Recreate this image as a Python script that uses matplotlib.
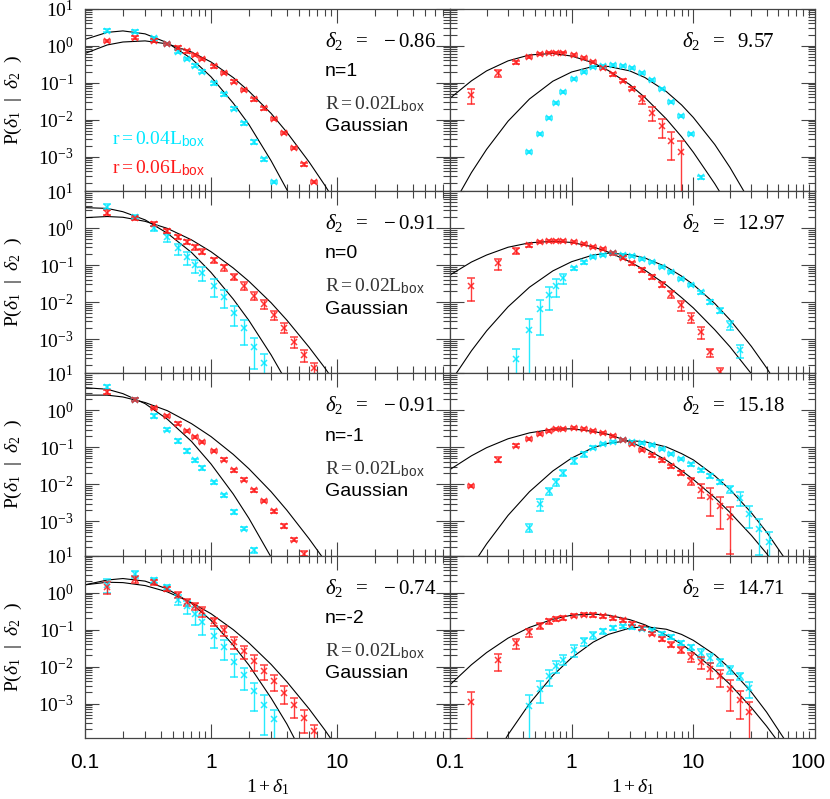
import numpy as np
import matplotlib
matplotlib.use("Agg")
import matplotlib.pyplot as plt
from matplotlib.ticker import LogLocator, NullFormatter
from matplotlib.transforms import ScaledTranslation


plt.rcParams["font.family"] = ["Liberation Serif", "DejaVu Serif"]
plt.rcParams["mathtext.fontset"] = "custom"
plt.rcParams["mathtext.rm"] = "Liberation Serif"
plt.rcParams["mathtext.it"] = "Liberation Serif:italic"
plt.rcParams["mathtext.sf"] = "Liberation Sans"

CYAN = "#00E8FF"
RED = "#FF1A1A"
AX_COLOR = "#444444"

# bin centres in 1+delta_1 shared by all measured series
BIN_X = [0.15, 0.25, 0.35, 0.45, 0.55, 0.65, 0.75, 0.85,
         1.05, 1.26, 1.51, 1.82, 2.19, 2.63, 3.16, 3.80, 4.57, 5.50,
         6.61, 7.94, 9.55, 11.5, 13.8, 16.6, 20.0, 24.0, 28.8, 34.7, 41.7]

N_LABELS = ["n=1", "n=0", "n=-1", "n=-2"]
DELTA2_LOW = ["-0.86", "-0.91", "-0.91", "-0.74"]
DELTA2_HIGH = ["9.57", "12.97", "15.18", "14.71"]

Y_TICKS = [10, 1, 0.1, 0.01, 0.001]
Y_TICK_LABELS = [r"$10^{1}$", r"$10^{0}$", r"$10^{-1}$", r"$10^{-2}$", r"$10^{-3}$"]
X_TICKS_LEFT = [0.1, 1, 10]
X_TICKS_RIGHT = [0.1, 1, 10, 100]

# ---- low delta_2 (left column), both series start at the first bin ----
LOW_CYAN_Y = [
    [2.55, 2.39, 1.58, 1.09, 0.69, 0.44, 0.29, 0.20, 0.096, 0.049, 0.020, 0.0080, 0.0025, 8.5e-4, 2.1e-4],
    [3.77, 2.02, 0.98, 0.559, 0.282, 0.161, 0.10, 0.062, 0.0276, 0.0139, 0.0051, 0.00202, 6.2e-4, 2.2e-4],
    [4.27, 1.94, 0.703, 0.30, 0.148, 0.0796, 0.0445, 0.0276, 0.0113, 0.00505, 0.00179, 6.3e-4, 1.64e-4],
    [1.64, 3.19, 2.15, 1.39, 0.646, 0.427, 0.27, 0.161, 0.0689, 0.034, 0.0134, 0.00582, 0.00215, 9.4e-4, 3.85e-4],
]
LOW_CYAN_ERR = [
    [0.08, 0.08, 0.08, 0.07, 0.08, 0.08, 0.08, 0.08, 0.08, 0.08, 0.08, 0.08, 0.10, 0.10, 0.08],
    [0.15, 0.10, 0.16, 0.25, 0.33, 0.37, 0.38, 0.42, 0.50, 0.50, 0.55, 0.65, 0.75, 0.80],
    [0.10, 0.08, 0.14, 0.10, 0.10, 0.10, 0.10, 0.10, 0.10, 0.10, 0.10, 0.10, 0.15],
    [0.40, 0.20, 0.15, 0.15, 0.30, 0.40, 0.50, 0.55, 0.55, 0.55, 0.60, 0.60, 0.70, 0.85, 0.75],
]
LOW_RED_Y = [
    [1.34, 1.65, 1.37, 1.11, 0.885, 0.705, 0.56, 0.44, 0.277, 0.183, 0.107, 0.0635, 0.0355, 0.0203,
     0.0104, 0.0044, 0.00172, 6.2e-4, 2.07e-4],
    [2.59, 1.82, 1.26, 0.83, 0.583, 0.427, 0.30, 0.229, 0.136, 0.0865, 0.0483, 0.0276, 0.0148, 0.00865,
     0.00445, 0.00202, 8.5e-4, 3.7e-4, 1.6e-4],
    [3.13, 1.94, 1.16, 0.703, 0.436, 0.276, 0.19, 0.139, 0.0796, 0.0464, 0.0239, 0.0134, 0.00689,
     0.00354, 0.00186, 7.5e-4, 3.2e-4, 1.34e-4],
    [1.42, 2.34, 1.90, 1.26, 0.88, 0.56, 0.427, 0.313, 0.168, 0.096, 0.0464, 0.026, 0.0139, 0.0078,
     0.004, 0.00194, 9.0e-4, 4.1e-4, 1.79e-4],
]
LOW_RED_ERR = [
    [0.08, 0.08, 0.08, 0.08, 0.08, 0.08, 0.08, 0.08, 0.08, 0.08, 0.08, 0.08, 0.08, 0.08, 0.08, 0.08,
     0.08, 0.08, 0.08],
    [0.15, 0.12, 0.12, 0.12, 0.13, 0.14, 0.15, 0.16, 0.17, 0.18, 0.20, 0.22, 0.25, 0.27, 0.28, 0.30,
     0.33, 0.35, 0.40],
    [0.10, 0.08, 0.08, 0.08, 0.08, 0.08, 0.08, 0.08, 0.08, 0.08, 0.08, 0.08, 0.08, 0.08, 0.08, 0.10,
     0.10, 0.15],
    [0.35, 0.20, 0.15, 0.15, 0.20, 0.22, 0.20, 0.30, 0.25, 0.30, 0.35, 0.40, 0.45, 0.45, 0.45, 0.50,
     0.55, 0.60, 0.50],
]

# ---- high delta_2 (right column) ----
HIGH_RED_Y = [
    [0.0465, 0.179, 0.355, 0.494, 0.597, 0.648, 0.648, 0.648, 0.561, 0.474, 0.355, 0.255, 0.168,
     0.1135, 0.069, 0.0355, 0.0155, 0.0068, 0.0027, 0.00134],
    [0.027, 0.111, 0.239, 0.34, 0.409, 0.436, 0.445, 0.445, 0.409, 0.377, 0.313, 0.265, 0.206, 0.158,
     0.111, 0.0733, 0.0473, 0.0294, 0.0164, 0.0081, 0.00377, 0.00155, 4.35e-4, 1.3e-4],
    [9.0e-3, 0.0464, 0.111, 0.171, 0.234, 0.276, 0.306, 0.319, 0.326, 0.313, 0.276, 0.244, 0.198,
     0.155, 0.126, 0.0865, 0.0607, 0.0445, 0.0306, 0.0202, 0.0123, 0.00717, 0.00454, 0.00254, 0.00131],
    [1.11e-3, 0.0148, 0.0436, 0.0847, 0.128, 0.168, 0.194, 0.206, 0.239, 0.254, 0.249, 0.229, 0.202,
     0.179, 0.145, 0.111, 0.0778, 0.0558, 0.0393, 0.0288, 0.0182, 0.0131, 0.00865, 0.00548, 0.00254,
     0.00128, 5.8e-4],
]
HIGH_RED_ERR = [
    [0.42, 0.22, 0.08, 0.06, 0.05, 0.05, 0.05, 0.05, 0.05, 0.05, 0.06, 0.06, 0.07, 0.08, 0.10, 0.25,
     0.40, 0.53, 0.70, 1.0],
    [0.60, 0.33, 0.18, 0.08, 0.06, 0.06, 0.06, 0.06, 0.06, 0.06, 0.06, 0.06, 0.07, 0.08, 0.08, 0.10,
     0.12, 0.15, 0.20, 0.30, 0.30, 0.35, 0.25, 0.30],
    [0.06, 0.15, 0.08, 0.06, 0.06, 0.06, 0.06, 0.06, 0.06, 0.06, 0.06, 0.06, 0.06, 0.06, 0.06, 0.07,
     0.08, 0.08, 0.10, 0.12, 0.20, 0.40, 0.70, 0.75, 0.90],
    [0.90, 0.50, 0.30, 0.25, 0.20, 0.15, 0.10, 0.10, 0.10, 0.10, 0.10, 0.10, 0.10, 0.10, 0.10, 0.10,
     0.10, 0.12, 0.15, 0.20, 0.25, 0.35, 0.45, 0.50, 0.75, 0.70, 0.90],
]
HIGH_CYAN_START = [3, 2, 3, 3]
HIGH_CYAN_Y = [
    [1.31e-3, 4.0e-3, 0.0109, 0.0289, 0.056, 0.126, 0.19, 0.26, 0.288, 0.30, 0.283, 0.244, 0.187,
     0.116, 0.066, 0.0307, 0.0126, 0.0041, 2.8e-4],
    [2.8e-4, 1.75e-3, 6.3e-3, 0.0155, 0.0276, 0.0436, 0.081, 0.118, 0.161, 0.186, 0.206, 0.186, 0.175,
     0.145, 0.118, 0.0865, 0.0634, 0.0418, 0.0288, 0.0182, 0.0102, 0.00583, 0.00239, 5.0e-4],
    [6.7e-4, 2.88e-3, 6.6e-3, 0.0116, 0.0207, 0.0427, 0.0646, 0.098, 0.12, 0.139, 0.155, 0.139, 0.131,
     0.113, 0.092, 0.0675, 0.0493, 0.0347, 0.0239, 0.0168, 0.0116, 0.00733, 0.00436, 0.00161, 6.3e-4,
     2.76e-4],
    [8.5e-4, 2.54e-3, 5.5e-3, 0.0102, 0.0155, 0.0288, 0.0483, 0.0703, 0.0902, 0.111, 0.123, 0.118,
     0.106, 0.096, 0.078, 0.0634, 0.0436, 0.034, 0.0234, 0.0171, 0.0131, 0.0083, 0.0055, 0.00265],
]
HIGH_CYAN_ERR = [
    [0.06, 0.06, 0.06, 0.06, 0.06, 0.06, 0.06, 0.06, 0.06, 0.06, 0.06, 0.06, 0.06, 0.06, 0.06, 0.06,
     0.06, 0.08, 0.10],
    [0.90, 1.0, 0.80, 0.60, 0.50, 0.30, 0.12, 0.08, 0.06, 0.06, 0.06, 0.06, 0.06, 0.06, 0.06, 0.06,
     0.06, 0.07, 0.08, 0.10, 0.12, 0.15, 0.25, 0.40],
    [0.25, 0.35, 0.20, 0.20, 0.20, 0.18, 0.15, 0.08, 0.06, 0.06, 0.06, 0.06, 0.06, 0.06, 0.06, 0.06,
     0.06, 0.08, 0.10, 0.10, 0.12, 0.20, 0.40, 0.60, 0.80, 0.85],
    [0.95, 0.60, 0.45, 0.35, 0.30, 0.35, 0.25, 0.20, 0.15, 0.10, 0.10, 0.10, 0.10, 0.10, 0.10, 0.10,
     0.12, 0.15, 0.25, 0.25, 0.20, 0.25, 0.20, 0.45],
]

# ---- Gaussian-model curves, log10 P ----
FIT_X_LOW = [0.1, 0.15, 0.2, 0.3, 0.45, 0.7, 1, 1.5, 2, 3, 4, 6, 8, 10]
FIT_X_HIGH = [0.1, 0.15, 0.2, 0.3, 0.45, 0.7, 1, 1.5, 2, 3, 4, 6, 8, 10, 15, 20, 30, 40, 60]

LOW_CYAN_FIT = [
    [0.17, 0.36, 0.40, 0.32, 0.08, -0.35, -0.84, -1.55, -2.13, -3.11, -3.89, -5.13],
    [0.55, 0.53, 0.44, 0.22, -0.14, -0.66, -1.20, -1.92, -2.50, -3.43, -4.17],
    [0.61, 0.57, 0.45, 0.18, -0.24, -0.84, -1.45, -2.26, -2.92, -3.97, -4.8],
    [0.21, 0.34, 0.38, 0.31, 0.10, -0.29, -0.75, -1.42, -1.96, -2.85, -3.55, -4.7],
]
LOW_RED_FIT = [
    [-0.21, 0.02, 0.10, 0.13, 0.05, -0.17, -0.44, -0.86, -1.23, -1.83, -2.34, -3.14, -3.77, -4.30],
    [0.28, 0.31, 0.29, 0.18, -0.01, -0.32, -0.64, -1.08, -1.44, -2.02, -2.49, -3.22, -3.78, -4.25],
    [0.41, 0.41, 0.36, 0.21, -0.01, -0.36, -0.71, -1.19, -1.58, -2.20, -2.70, -3.47, -4.06],
    [0.21, 0.28, 0.27, 0.19, 0.02, -0.27, -0.57, -1.00, -1.36, -1.94, -2.41, -3.14, -3.71, -4.19],
]
HIGH_RED_FIT = [
    [-1.42, -0.95, -0.68, -0.41, -0.25, -0.21, -0.28, -0.46, -0.67, -1.05, -1.40, -1.98, -2.46, -2.88,
     -3.73, -4.40],
    [-1.27, -0.92, -0.73, -0.52, -0.40, -0.36, -0.39, -0.51, -0.65, -0.91, -1.14, -1.54, -1.88, -2.16,
     -2.75, -3.21, -3.94, -4.5],
    [-1.60, -1.23, -1.01, -0.77, -0.61, -0.51, -0.50, -0.57, -0.65, -0.85, -1.03, -1.35, -1.63, -1.87,
     -2.36, -2.76, -3.38, -3.87, -4.63],
    [-2.49, -1.95, -1.62, -1.23, -0.94, -0.72, -0.61, -0.58, -0.61, -0.73, -0.87, -1.15, -1.39, -1.62,
     -2.09, -2.48, -3.11, -3.61, -4.39],
]
HIGH_CYAN_FIT = [
    [-4.45, -3.43, -2.80, -2.04, -1.44, -0.96, -0.71, -0.56, -0.56, -0.68, -0.86, -1.24, -1.60, -1.94,
     -2.67, -3.29, -4.28],
    [-4.18, -3.32, -2.78, -2.13, -1.60, -1.16, -0.91, -0.73, -0.68, -0.72, -0.81, -1.05, -1.30, -1.53,
     -2.04, -2.48, -3.20, -3.78, -4.71],
    [-5.2, -4.23, -3.61, -2.84, -2.20, -1.64, -1.29, -1.01, -0.89, -0.82, -0.85, -0.99, -1.17, -1.34,
     -1.77, -2.14, -2.77, -3.29, -4.13],
    [-6.8, -5.61, -4.83, -3.84, -3.00, -2.24, -1.76, -1.34, -1.13, -0.96, -0.92, -0.99, -1.13, -1.29,
     -1.68, -2.05, -2.69, -3.23, -4.11],
]

YMIN = 10 ** -3.927
XMAX_LOW = 10 ** 1.897
XMAX_HIGH = 100.0

FIG_W, FIG_H = 830, 799
PANEL_TOP = 8.7
PANEL_H = 182.3
LEFT_X0 = 85
RIGHT_X0 = 450
PANEL_W = 365


def draw_series(ax, start, ys, errs, color):
    xs = BIN_X[start:start + len(ys)]
    y = np.array(ys)
    err = np.array(errs) * y
    lower = np.minimum(err, 0.97 * y)
    ax.errorbar(xs, y, yerr=[lower, err], fmt="x", color=color, ms=4, mew=1.1,
                elinewidth=1.0, capsize=3.2, capthick=1.0, alpha=0.85, zorder=3)


def draw_fit(ax, xs, logs):
    n = min(len(xs), len(logs))
    ax.plot(xs[:n], 10 ** np.array(logs[:n]), color="black", lw=0.8, zorder=2)


def style_axes(ax, xmax, xticks, bottom, left):
    ax.set_xscale("log")
    ax.set_yscale("log")
    ax.set_xlim(0.1, xmax)
    ax.set_ylim(YMIN, 10)
    ax.set_xticks(xticks)
    ax.xaxis.set_minor_locator(LogLocator(base=10, subs=np.arange(2, 10), numticks=30))
    ax.xaxis.set_minor_formatter(NullFormatter())
    ax.set_yticks(Y_TICKS)
    ax.yaxis.set_minor_locator(LogLocator(base=10, subs=np.arange(2, 10), numticks=30))
    ax.yaxis.set_minor_formatter(NullFormatter())
    ax.tick_params(which="both", direction="in", top=True, right=True,
                   color=AX_COLOR, width=0.8)
    ax.tick_params(which="major", length=10)
    ax.tick_params(which="minor", length=5)
    if bottom:
        ax.set_xticklabels([f"{t:g}" for t in xticks], fontfamily="Liberation Sans", fontsize=15)
        ax.tick_params(axis="x", pad=11)
    else:
        ax.tick_params(axis="x", labelbottom=False)
    if left:
        ax.set_yticklabels(Y_TICK_LABELS, fontsize=14)
        ax.tick_params(axis="y", pad=8)
    else:
        ax.tick_params(axis="y", labelleft=False)
    for sp in ax.spines.values():
        sp.set_color(AX_COLOR)
        sp.set_linewidth(0.9)


fig = plt.figure(figsize=(FIG_W / 100, FIG_H / 100), dpi=100)

for row in range(4):
    y0 = 1 - (PANEL_TOP + PANEL_H * (row + 1)) / FIG_H
    h = PANEL_H / FIG_H
    axl = fig.add_axes([LEFT_X0 / FIG_W, y0, PANEL_W / FIG_W, h])
    axr = fig.add_axes([RIGHT_X0 / FIG_W, y0, PANEL_W / FIG_W, h])
    bottom = row == 3

    style_axes(axl, XMAX_LOW, X_TICKS_LEFT, bottom, True)
    style_axes(axr, XMAX_HIGH, X_TICKS_RIGHT, bottom, False)

    # left column: underdense delta_2
    draw_fit(axl, FIT_X_LOW, LOW_CYAN_FIT[row])
    draw_fit(axl, FIT_X_LOW, LOW_RED_FIT[row])
    draw_series(axl, 0, LOW_CYAN_Y[row], LOW_CYAN_ERR[row], CYAN)
    draw_series(axl, 0, LOW_RED_Y[row], LOW_RED_ERR[row], RED)

    # right column: overdense delta_2
    draw_fit(axr, FIT_X_HIGH, HIGH_CYAN_FIT[row])
    draw_fit(axr, FIT_X_HIGH, HIGH_RED_FIT[row])
    draw_series(axr, HIGH_CYAN_START[row], HIGH_CYAN_Y[row], HIGH_CYAN_ERR[row], CYAN)
    draw_series(axr, 0, HIGH_RED_Y[row], HIGH_RED_ERR[row], RED)

    axl.text(0.658, 0.792, r"$\delta_2\ \ =\ \ %s$" % DELTA2_LOW[row], transform=axl.transAxes,
             ha="left", va="baseline", fontsize=15)
    axl.text(0.658, 0.631, N_LABELS[row], transform=axl.transAxes, ha="left", va="baseline",
             fontsize=14, fontfamily="Liberation Sans")
    axl.text(0.658, 0.448, r"$\mathrm{R=0.02L}_{\mathsf{box}}$", transform=axl.transAxes,
             ha="left", va="baseline", fontsize=14, color="#333333")
    axl.text(0.658, 0.327, "Gaussian", transform=axl.transAxes, ha="left", va="baseline",
             fontsize=14, fontfamily="Liberation Sans")
    axr.text(0.636, 0.792, r"$\delta_2\ \ =\ \ %s$" % DELTA2_HIGH[row], transform=axr.transAxes,
             ha="left", va="baseline", fontsize=15)

    if row == 0:
        axl.text(0.074, 0.258, r"$\mathrm{r=0.04L}_{\mathsf{box}}$", transform=axl.transAxes,
                 ha="left", va="baseline", fontsize=14, color=CYAN)
        axl.text(0.074, 0.097, r"$\mathrm{r=0.06L}_{\mathsf{box}}$", transform=axl.transAxes,
                 ha="left", va="baseline", fontsize=14, color=RED)

    if bottom:
        # keep the last "100" label inside the canvas
        shift = ScaledTranslation(-5 / 72, 0, fig.dpi_scale_trans)
        last = axr.get_xticklabels()[-1]
        last.set_transform(last.get_transform() + shift)

    yc = 1 - (PANEL_TOP + PANEL_H * (row + 0.5)) / FIG_H
    fig.text(13 / FIG_W, yc, r"$\mathrm{P}(\delta_1\ \ |\ \ \delta_2\ \ )$", rotation=90,
             ha="center", va="center", fontsize=14)

fig.text((LEFT_X0 + PANEL_W / 2) / FIG_W, 1 - 787 / FIG_H, r"$1+\delta_1$",
         ha="center", va="center", fontsize=14)
fig.text((RIGHT_X0 + PANEL_W / 2) / FIG_W, 1 - 787 / FIG_H, r"$1+\delta_1$",
         ha="center", va="center", fontsize=14)

fig.savefig("out.png", dpi=100, facecolor="white")
